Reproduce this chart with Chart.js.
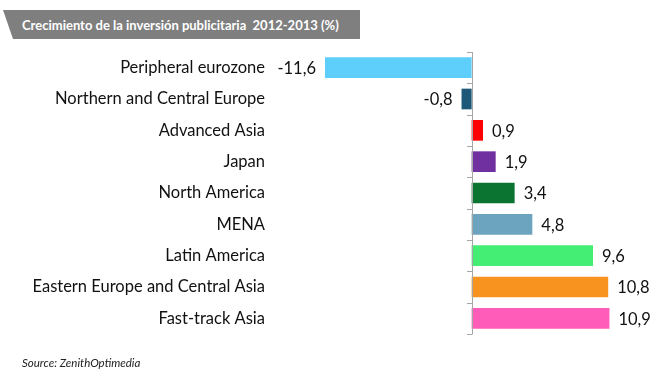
<!DOCTYPE html>
<html>
<head>
<meta charset="utf-8">
<script src="https://cdn.jsdelivr.net/npm/chart.js@4/dist/chart.umd.min.js"></script>
<style>
  html, body { margin: 0; padding: 0; background: #fff; }
  #wrap { position: relative; width: 660px; height: 377px; overflow: hidden; }
  #chart { position: absolute; left: 0; top: 0; }
  #title {
    position: absolute; left: 3px; top: 10px; width: 357px; height: 29px;
    background: #7f7f7f;
    clip-path: polygon(0 0, 100% 0, 100% 100%, 10px 100%);
    color: #fff; font-family: Lato, sans-serif; font-weight: bold; font-size: 13px;
    line-height: 30px; padding-left: 19px; box-sizing: border-box; white-space: pre;
  }
  #source {
    position: absolute; left: 22px; top: 356px;
    font-family: Lato, sans-serif; font-style: italic; font-size: 11.5px; color: #222;
  }
</style>
</head>
<body>
<div id="wrap">
  <canvas id="chart" width="660" height="377"></canvas>
  <div id="title">Crecimiento de la inversión publicitaria  2012-2013 (%)</div>
  <div id="source">Source: ZenithOptimedia</div>
</div>
<script>
const categories = [
  "Peripheral eurozone",
  "Northern and Central Europe",
  "Advanced Asia",
  "Japan",
  "North America",
  "MENA",
  "Latin America",
  "Eastern Europe and Central Asia",
  "Fast-track Asia"
];
const growthValues = [-11.6, -0.8, 0.9, 1.9, 3.4, 4.8, 9.6, 10.8, 10.9];
const barColors = ["#5ECFFA", "#1E5878", "#FF0000", "#7030A0", "#0B7431", "#6CA3BE", "#44EE74", "#F7931E", "#FF5CB9"];

const FONT = "Lato, sans-serif";

const zeroAxisPlugin = {
  id: "zeroAxis",
  afterDatasetsDraw(chart) {
    const ctx = chart.ctx;
    const x = chart.scales.x.getPixelForValue(0);
    const { top, bottom } = chart.chartArea;
    const n = categories.length;
    ctx.save();
    ctx.strokeStyle = "#a6a6a6";
    ctx.lineWidth = 1;
    ctx.beginPath();
    ctx.moveTo(Math.round(x) + 0.5, top);
    ctx.lineTo(Math.round(x) + 0.5, bottom);
    for (let i = 0; i <= n; i++) {
      const y = Math.round(top + i * (bottom - top) / n) + 0.5;
      ctx.moveTo(Math.round(x) - 5, y);
      ctx.lineTo(Math.round(x) + 0.5, y);
    }
    ctx.stroke();
    ctx.restore();
  }
};

const valueLabelPlugin = {
  id: "valueLabels",
  afterDatasetsDraw(chart) {
    const ctx = chart.ctx;
    const meta = chart.getDatasetMeta(0);
    ctx.save();
    ctx.font = "16.5px " + FONT;
    ctx.fillStyle = "#111";
    ctx.textBaseline = "middle";
    meta.data.forEach((bar, i) => {
      const v = growthValues[i];
      const txt = v.toFixed(1).replace(".", ",");
      if (v >= 0) {
        ctx.textAlign = "left";
        ctx.fillText(txt, bar.x + 9, bar.y + 1);
      } else {
        ctx.textAlign = "right";
        ctx.fillText(txt, bar.x - 9, bar.y + 1);
      }
    });
    ctx.restore();
  }
};

new Chart(document.getElementById("chart"), {
  type: "bar",
  data: {
    labels: categories,
    datasets: [{
      data: growthValues,
      backgroundColor: barColors,
      borderWidth: 0,
      categoryPercentage: 1,
      barPercentage: 0.66
    }]
  },
  options: {
    indexAxis: "y",
    responsive: false,
    animation: false,
    layout: { padding: { left: 0, right: 24, top: 52, bottom: 43 } },
    plugins: { legend: { display: false }, tooltip: { enabled: false }, title: { display: false } },
    scales: {
      x: {
        display: false,
        min: -15,
        max: 13
      },
      y: {
        border: { display: false },
        grid: { display: false, drawTicks: false },
        ticks: { color: "#111", font: { family: FONT, size: 16.5 }, padding: 17 },
        afterFit(scale) { scale.width = 282; }
      }
    }
  },
  plugins: [zeroAxisPlugin, valueLabelPlugin]
});
</script>
</body>
</html>
